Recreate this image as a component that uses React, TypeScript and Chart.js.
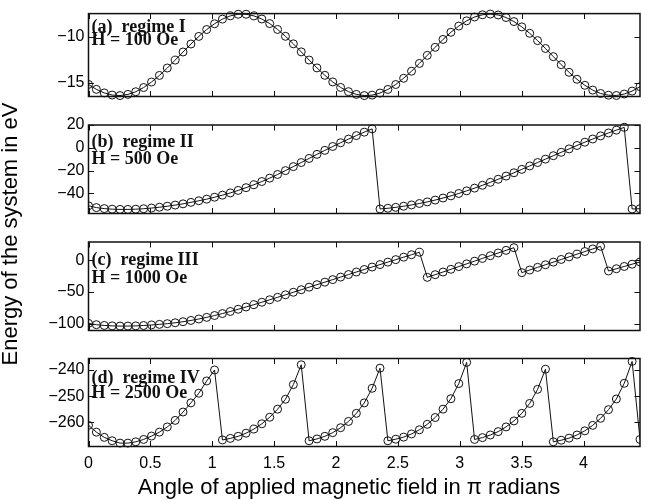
import React, { useEffect, useRef } from 'react';
import { Chart, registerables } from 'chart.js';

Chart.register(...registerables);

// Applied field angle in radians (plotted in units of pi)
const angleRad = [
  0, 0.2, 0.4, 0.6, 0.8, 1.0, 1.2, 1.4, 1.6, 1.8,
  2.0, 2.2, 2.4, 2.6, 2.8, 3.0, 3.2, 3.4, 3.6, 3.8,
  4.0, 4.2, 4.4, 4.6, 4.8, 5.0, 5.2, 5.4, 5.6, 5.8,
  6.0, 6.2, 6.4, 6.6, 6.8, 7.0, 7.2, 7.4, 7.6, 7.8,
  8.0, 8.2, 8.4, 8.6, 8.8, 9.0, 9.2, 9.4, 9.6, 9.8,
  10.0, 10.2, 10.4, 10.6, 10.8, 11.0, 11.2, 11.4, 11.6, 11.8,
  12.0, 12.2, 12.4, 12.6, 12.8, 13.0, 13.2, 13.4, 13.6, 13.8,
  14.0,
];

// (a) regime I, H = 100 Oe
const energyA = [
  -15.18, -15.72, -16.11, -16.34, -16.40, -16.27, -15.98, -15.52, -14.92, -14.20,
  -13.39, -12.53, -11.64, -10.77, -9.94, -9.19, -8.56, -8.05, -7.70, -7.52,
  -7.52, -7.70, -8.04, -8.54, -9.18, -9.93, -10.75, -11.63, -12.52, -13.38,
  -14.19, -14.91, -15.51, -15.97, -16.27, -16.40, -16.35, -16.12, -15.73, -15.19,
  -14.51, -13.74, -12.89, -12.01, -11.13, -10.27, -9.49, -8.81, -8.24, -7.82,
  -7.58, -7.50, -7.60, -7.88, -8.32, -8.90, -9.60, -10.40, -11.26, -12.15,
  -13.03, -13.86, -14.62, -15.28, -15.80, -16.17, -16.36, -16.39, -16.23, -15.91,
  -15.43,
];

// (b) regime II, H = 500 Oe
const energyB = [
  -51.0, -52.6, -53.5, -54.0, -54.2, -54.2, -54.0, -53.6, -53.0, -52.3,
  -51.4, -50.4, -49.3, -48.0, -46.6, -45.2, -43.5, -41.7, -39.7, -37.5,
  -35.1, -32.5, -29.7, -26.7, -23.5, -20.1, -16.6, -13.0, -9.4, -5.8,
  -2.3, 1.1, 4.4, 7.6, 10.7, 13.7, 16.6, -53.8, -53.2, -52.4,
  -51.4, -50.3, -49.0, -47.6, -46.0, -44.2, -42.3, -40.2, -37.9, -35.5,
  -33.0, -30.4, -27.7, -24.9, -22.0, -19.0, -16.0, -13.0, -10.0, -7.0,
  -4.0, -1.0, 2.0, 4.9, 7.7, 10.4, 13.0, 15.5, 17.9, -53.8,
  -53.6,
];

// (c) regime III, H = 1000 Oe
const energyC = [
  -99.7, -101.8, -103.0, -103.7, -104.0, -104.0, -103.7, -103.1, -102.2, -101.3,
  -100.2, -98.8, -97.1, -95.1, -92.8, -90.2, -87.3, -84.2, -80.9, -77.4,
  -73.8, -70.1, -66.3, -62.4, -58.5, -54.5, -50.5, -46.5, -42.5, -38.5,
  -34.5, -30.5, -26.5, -22.5, -18.5, -14.5, -10.6, -6.7, -2.8, 1.1,
  5.0, 8.9, 12.8, -26.9, -22.7, -18.5, -14.2, -9.9, -5.6, -1.3,
  3.0, 7.3, 11.6, 15.8, 20.0, -19.5, -15.3, -11.1, -7.0, -2.8,
  1.4, 5.5, 9.7, 13.9, 18.0, 22.2, -16.9, -13.3, -9.7, -6.1,
  -2.5,
];

// (d) regime IV, H = 2500 Oe
const energyD = [
  -261.2, -263.8, -265.8, -267.1, -268.0, -268.0, -267.5, -266.6, -265.3, -263.8,
  -261.8, -259.3, -256.1, -252.6, -248.9, -244.2, -240.0, -266.8, -266.2, -265.4,
  -264.2, -262.6, -260.6, -258.1, -255.0, -251.2, -245.6, -238.0, -267.1, -266.4,
  -265.4, -264.0, -262.1, -259.7, -256.6, -252.6, -247.0, -239.3, -267.1, -266.5,
  -265.7, -264.5, -262.9, -260.8, -258.2, -255.0, -251.0, -245.2, -237.1, -266.6,
  -265.9, -264.9, -263.6, -261.8, -259.5, -256.6, -252.8, -247.4, -239.7, -267.5,
  -266.9, -266.1, -264.9, -263.3, -261.2, -258.5, -255.2, -251.1, -245.1, -236.7,
  -266.6,
];

const xTickValues = [0, 0.5, 1, 1.5, 2, 2.5, 3, 3.5, 4];
const yTicksA = [-15, -10];
const yTicksB = [-40, -20, 0, 20];
const yTicksC = [-100, -50, 0];
const yTicksD = [-260, -250, -240];
const yLimitsA = [-16.5, -7.45];
const yLimitsB = [-57.8, 20];
const yLimitsC = [-111, 29];
const yLimitsD = [-269.3, -235.6];
const labelsA = ['(a)  regime I', 'H = 100 Oe'];
const labelsB = ['(b)  regime II', 'H = 500 Oe'];
const labelsC = ['(c)  regime III', 'H = 1000 Oe'];
const labelsD = ['(d)  regime IV', 'H = 2500 Oe'];
const xTitle = 'Angle of applied magnetic field in \u03c0 radians';
const yTitle = 'Energy of the system in eV';

const W = 645;
const H = 500;
const SANS = '"Liberation Sans", Arial, Helvetica, sans-serif';
const SERIF = '"Liberation Serif", "Times New Roman", Times, serif';
const INK = '#111';

type Panel = {
  values: number[];
  yTicks: number[];
  yLimits: number[];
  labels: string[];
  top: number;
  bottom: number;
  textY: number[];
  showX: boolean;
};

const panels: Panel[] = [
  { values: energyA, yTicks: yTicksA, yLimits: yLimitsA, labels: labelsA, top: 8, bottom: 96.5, textY: [13.5, 26.5], showX: false },
  { values: energyB, yTicks: yTicksB, yLimits: yLimitsB, labels: labelsB, top: 125, bottom: 213.5, textY: [17, 34], showX: false },
  { values: energyC, yTicks: yTicksC, yLimits: yLimitsC, labels: labelsC, top: 242, bottom: 330.5, textY: [18.5, 36], showX: false },
  { values: energyD, yTicks: yTicksD, yLimits: yLimitsD, labels: labelsD, top: 358.5, bottom: 446.5, textY: [19.5, 35], showX: true },
];

const fmt = (v: number) => (v < 0 ? '\u2212' + String(Math.abs(v)) : String(v));

export default function App() {
  const canvases = useRef<(HTMLCanvasElement | null)[]>([]);

  useEffect(() => {
    const xs = angleRad.map((a) => a / Math.PI);
    const charts: Chart[] = [];
    panels.forEach((p, idx) => {
      const canvas = canvases.current[idx];
      if (!canvas) return;
      const framePlugin = {
        id: 'frame' + idx,
        afterDatasetsDraw(chart: any) {
          const { ctx, chartArea } = chart;
          const { left, right, top, bottom } = chartArea;
          const xs_ = chart.scales.x;
          const ys_ = chart.scales.y;
          ctx.save();
          ctx.strokeStyle = INK;
          ctx.lineWidth = 1;
          ctx.beginPath();
          xTickValues.forEach((v) => {
            const px = Math.round(xs_.getPixelForValue(v)) + 0.5;
            ctx.moveTo(px, top);
            ctx.lineTo(px, top + 5.5);
            ctx.moveTo(px, bottom);
            ctx.lineTo(px, bottom - 5.5);
          });
          p.yTicks.forEach((v) => {
            const py = Math.round(ys_.getPixelForValue(v)) + 0.5;
            ctx.moveTo(left, py);
            ctx.lineTo(left + 5.5, py);
            ctx.moveTo(right, py);
            ctx.lineTo(right - 5.5, py);
          });
          ctx.stroke();
          ctx.lineWidth = 1.5;
          ctx.strokeRect(left, top, right - left, bottom - top);

          ctx.fillStyle = INK;
          ctx.font = 'bold 18px ' + SERIF;
          ctx.textAlign = 'left';
          ctx.textBaseline = 'middle';
          p.labels.forEach((t, k) => {
            ctx.fillText(t, left + 3, top + p.textY[k]);
          });

          if (p.showX) {
            ctx.fillStyle = '#000';
            ctx.font = '22px ' + SANS;
            ctx.textAlign = 'center';
            ctx.textBaseline = 'alphabetic';
            ctx.fillText(xTitle, 349, 493.5);
            ctx.save();
            ctx.translate(16.8, 234);
            ctx.rotate(-Math.PI / 2);
            ctx.fillText(yTitle, 0, 0);
            ctx.restore();
          }
          ctx.restore();
        },
      };

      const chart = new Chart(canvas, {
        type: 'line',
        data: {
          datasets: [
            {
              data: xs.map((x, i) => ({ x, y: p.values[i] })),
              borderColor: INK,
              borderWidth: 1,
              pointRadius: 4,
              pointBorderWidth: 1,
              pointBorderColor: INK,
              pointBackgroundColor: 'rgba(0,0,0,0)',
              fill: false,
              tension: 0,
              clip: { left: 0, right: 0, top: 6, bottom: 6 } as any,
            },
          ],
        },
        options: {
          animation: false,
          responsive: false,
          devicePixelRatio: 1,
          events: [],
          layout: {
            padding: { left: 0, right: W - 644, top: p.top, bottom: p.showX ? 0 : H - p.bottom },
          },
          plugins: { legend: { display: false }, tooltip: { enabled: false } },
          scales: {
            x: {
              type: 'linear',
              min: 0,
              max: xs[xs.length - 1],
              display: p.showX,
              grid: { display: false, drawTicks: false },
              border: { display: false },
              afterBuildTicks: (s: any) => {
                s.ticks = xTickValues.map((v) => ({ value: v }));
              },
              afterFit: (s: any) => {
                s.height = p.showX ? H - p.bottom : 0;
              },
              ticks: {
                padding: 7,
                color: '#000',
                autoSkip: false,
                maxRotation: 0,
                font: { family: SANS, size: 16 },
                callback: (v: any) => String(v),
              },
            },
            y: {
              type: 'linear',
              min: p.yLimits[0],
              max: p.yLimits[1],
              grid: { display: false, drawTicks: false },
              border: { display: false },
              afterBuildTicks: (s: any) => {
                s.ticks = p.yTicks.map((v) => ({ value: v }));
              },
              afterFit: (s: any) => {
                s.width = 88.5;
              },
              ticks: {
                padding: 4,
                color: '#000',
                autoSkip: false,
                font: { family: SANS, size: 16 },
                callback: (v: any) => fmt(Number(v)),
              },
            },
          },
        } as any,
        plugins: [framePlugin],
      });
      charts.push(chart);
    });
    return () => {
      charts.forEach((c) => c.destroy());
    };
  }, []);

  return (
    <div style={{ position: 'absolute', left: 0, top: 0, width: W, height: H, background: '#fff', overflow: 'hidden' }}>
      {panels.map((_, i) => (
        <canvas
          key={i}
          ref={(el) => {
            canvases.current[i] = el;
          }}
          width={W}
          height={H}
          style={{ position: 'absolute', left: 0, top: 0, width: W, height: H }}
        />
      ))}
    </div>
  );
}
